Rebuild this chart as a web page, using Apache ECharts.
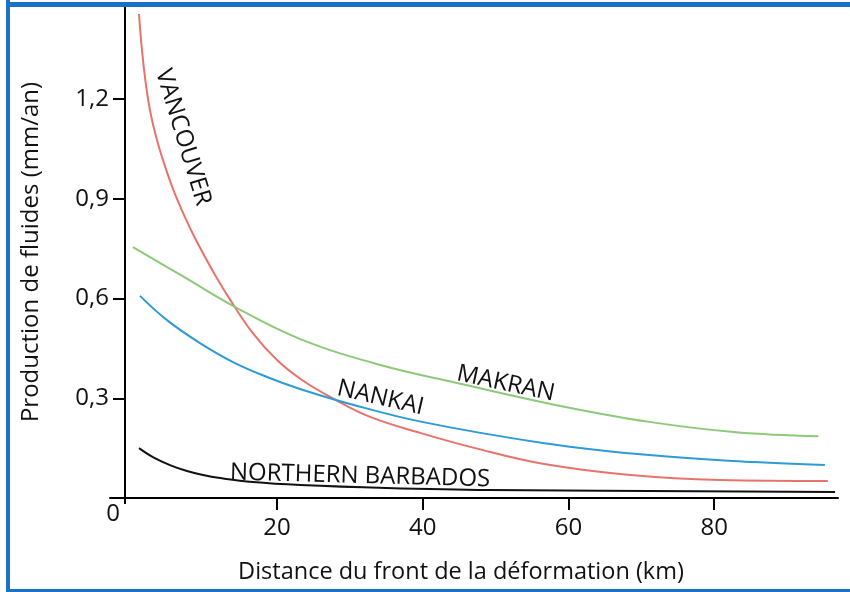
<!DOCTYPE html>
<html>
<head>
<meta charset="utf-8">
<script src="https://cdn.jsdelivr.net/npm/echarts@6/dist/echarts.min.js"></script>
<style>
html,body{margin:0;padding:0;background:#fff;}
#chart{width:850px;height:592px;}
</style>
</head>
<body>
<div id="chart"></div>
<script>
// ---- data ----
const xTickLabels = [20, 40, 60, 80];
const yTickLabels = [0.3, 0.6, 0.9, 1.2];

const vancouverX = [1.06, 1.47, 2.02, 2.70, 3.53, 4.56, 5.79, 7.24, 8.88, 11.11, 13.41, 16.57, 20.0, 23.43, 27.55, 32.78, 39.64, 47.2, 56.7, 68.5, 80.8, 95.6];
const vancouverY = [1.456, 1.347, 1.242, 1.152, 1.077, 1.002, 0.926, 0.851, 0.776, 0.686, 0.602, 0.499, 0.415, 0.355, 0.301, 0.244, 0.196, 0.150, 0.102, 0.069, 0.054, 0.051];

const nankaiX = [1.19, 4.90, 9.43, 13.96, 18.63, 23.16, 30.03, 39.9, 56.7, 71.1, 85.5, 95.2];
const nankaiY = [0.608, 0.535, 0.466, 0.409, 0.364, 0.328, 0.283, 0.229, 0.165, 0.129, 0.108, 0.099];

const makranX = [0.23, 7.0, 14.2, 23.2, 34.2, 44.7, 58.2, 71.1, 83.0, 94.3];
const makranY = [0.755, 0.668, 0.575, 0.478, 0.400, 0.346, 0.280, 0.229, 0.198, 0.186];

const barbadosX = [1.06, 2.97, 5.31, 7.65, 9.85, 12.2, 16.7, 23.2, 35.0, 49.1, 96.6];
const barbadosY = [0.150, 0.123, 0.099, 0.081, 0.069, 0.060, 0.048, 0.039, 0.030, 0.024, 0.018];

// curve name labels: [text, x, y, rotation in degrees]
const curveLabels = [
  ['VANCOUVER', 7.1, 1.085, -73],
  ['MAKRAN', 51.4, 0.344, -12],
  ['NANKAI', 34.2, 0.301, -13],
  ['NORTHERN BARBADOS', 31.4, 0.066, -1.5]
];

const yAxisName = 'Production de fluides (mm/an)';
const xAxisName = 'Distance du front de la déformation (km)';

// ---- chart ----
const FONT = '"Open Sans", "Noto Sans", sans-serif';
function pairs(xs, ys) { return xs.map((x, i) => [x, ys[i]]); }

const chart = echarts.init(document.getElementById('chart'), null, {renderer: 'canvas'});

function lineSeries(name, xs, ys, color) {
  return {
    name: name, type: 'line', data: pairs(xs, ys),
    smooth: 0.4, symbol: 'none',
    lineStyle: {color: color, width: 2},
    silent: true, z: 3
  };
}

chart.setOption({
  animation: false,
  backgroundColor: '#fff',
  grid: {left: 110, right: 12, top: 6, bottom: 94, containLabel: false},
  xAxis: {
    type: 'value', min: -2.92, max: 97,
    axisLine: {onZero: false, lineStyle: {color: '#000', width: 2}},
    axisTick: {show: true, length: 12, lineStyle: {color: '#000', width: 2}, customValues: xTickLabels},
    axisLabel: {customValues: xTickLabels, fontFamily: FONT, fontSize: 24, color: '#111', margin: 18},
    splitLine: {show: false},
    name: xAxisName, nameLocation: 'middle', nameGap: 62,
    nameTextStyle: {fontFamily: FONT, fontSize: 23.5, color: '#111', padding: [0, 26, 0, 0]}
  },
  yAxis: {
    type: 'value', min: 0, max: 1.48, interval: 0.3, offset: -15,
    axisLine: {onZero: false, lineStyle: {color: '#000', width: 2}},
    axisTick: {show: true, length: 12, lineStyle: {color: '#000', width: 2}, customValues: yTickLabels},
    axisLabel: {customValues: yTickLabels, fontFamily: FONT, fontSize: 24, color: '#111', margin: 16,
      formatter: v => String(Math.round(v * 10) / 10).replace('.', ',')},
    splitLine: {show: false},
    name: yAxisName, nameLocation: 'middle', nameGap: 82,
    nameTextStyle: {fontFamily: FONT, fontSize: 24, color: '#111'}
  },
  series: [
    lineSeries('VANCOUVER', vancouverX, vancouverY, '#e8736a'),
    lineSeries('NANKAI', nankaiX, nankaiY, '#2f9ad6'),
    lineSeries('MAKRAN', makranX, makranY, '#8dc97b'),
    lineSeries('NORTHERN BARBADOS', barbadosX, barbadosY, '#111')
  ]
});

// annotations positioned through the chart's own scales
const graphics = [];
curveLabels.forEach(([t, x, y, r]) => {
  const p = chart.convertToPixel({gridIndex: 0}, [x, y]);
  graphics.push({
    type: 'text', x: p[0], y: p[1], rotation: r * Math.PI / 180, z: 10,
    style: {text: t, fontFamily: FONT, fontSize: 24, fill: '#111', align: 'center', verticalAlign: 'middle'}
  });
});
// origin "0" label
const o = chart.convertToPixel({gridIndex: 0}, [-2.92, 0]);
graphics.push({type: 'text', x: o[0] + 3, y: o[1] + 16, z: 10,
  style: {text: '0', fontFamily: FONT, fontSize: 24, fill: '#111', align: 'center', verticalAlign: 'middle'}});
// y axis stub below the x axis
const ya = chart.convertToPixel({gridIndex: 0}, [-0.86, 0]);
graphics.push({type: 'line', shape: {x1: Math.round(ya[0]), y1: ya[1], x2: Math.round(ya[0]), y2: ya[1] + 6},
  style: {stroke: '#000', lineWidth: 2}, z: 5});
// blue frame
graphics.push({type: 'rect', shape: {x: 6, y: 0, width: 4, height: 592}, style: {fill: '#1a72c6'}, z: 20});
graphics.push({type: 'rect', shape: {x: 6, y: 2, width: 844, height: 5}, style: {fill: '#1a72c6'}, z: 20});
graphics.push({type: 'rect', shape: {x: 6, y: 589, width: 844, height: 3}, style: {fill: '#1a72c6'}, z: 20});
chart.setOption({graphic: graphics});
</script>
</body>
</html>
